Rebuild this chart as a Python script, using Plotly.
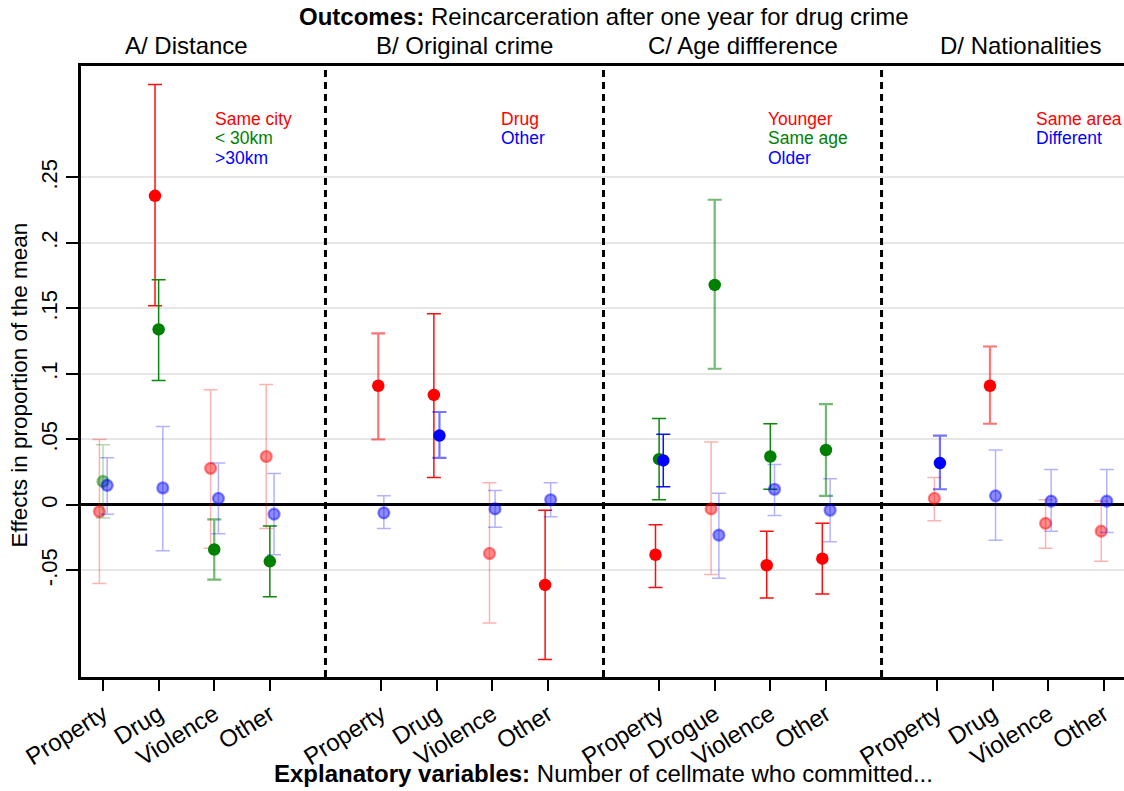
import plotly.graph_objects as go

# ---------------- data ----------------
panel_titles = ["A/ Distance", "B/ Original crime", "C/ Age diffference", "D/ Nationalities"]
cats_A = ["Property", "Drug", "Violence", "Other"]
cats_B = ["Property", "Drug", "Violence", "Other"]
cats_C = ["Property", "Drogue", "Violence", "Other"]
cats_D = ["Property", "Drug", "Violence", "Other"]

# significance: 2 = strongly significant, 1 = significant, 0 = not significant
# Panel A: distance
A_samecity_est = [-0.005, 0.236, 0.028, 0.037]
A_samecity_lo = [-0.060, 0.152, -0.033, -0.018]
A_samecity_hi = [0.050, 0.321, 0.088, 0.092]
A_samecity_sig = [0, 2, 0, 0]
A_lt30_est = [0.018, 0.134, -0.034, -0.043]
A_lt30_lo = [-0.010, 0.095, -0.057, -0.070]
A_lt30_hi = [0.046, 0.172, -0.011, -0.016]
A_lt30_sig = [0, 2, 1, 2]
A_gt30_est = [0.015, 0.013, 0.005, -0.007]
A_gt30_lo = [-0.007, -0.035, -0.022, -0.038]
A_gt30_hi = [0.036, 0.060, 0.032, 0.024]
A_gt30_sig = [0, 0, 0, 0]

# Panel B: original crime
B_drug_est = [0.091, 0.084, -0.037, -0.061]
B_drug_lo = [0.050, 0.021, -0.090, -0.118]
B_drug_hi = [0.131, 0.146, 0.017, -0.004]
B_drug_sig = [1, 2, 0, 2]
B_other_est = [-0.006, 0.053, -0.003, 0.004]
B_other_lo = [-0.018, 0.036, -0.017, -0.009]
B_other_hi = [0.007, 0.071, 0.011, 0.017]
B_other_sig = [0, 1, 0, 0]

# Panel C: age difference
C_younger_est = [-0.038, -0.003, -0.046, -0.041]
C_younger_lo = [-0.063, -0.053, -0.071, -0.068]
C_younger_hi = [-0.015, 0.048, -0.020, -0.014]
C_younger_sig = [2, 0, 2, 2]
C_sameage_est = [0.035, 0.168, 0.037, 0.042]
C_sameage_lo = [0.004, 0.104, 0.012, 0.007]
C_sameage_hi = [0.066, 0.233, 0.062, 0.077]
C_sameage_sig = [2, 1, 2, 1]
C_older_est = [0.034, -0.023, 0.012, -0.004]
C_older_lo = [0.014, -0.056, -0.008, -0.028]
C_older_hi = [0.054, 0.009, 0.031, 0.020]
C_older_sig = [2, 0, 0, 0]

# Panel D: nationalities
D_samearea_est = [0.005, 0.091, -0.014, -0.020]
D_samearea_lo = [-0.012, 0.062, -0.033, -0.043]
D_samearea_hi = [0.021, 0.121, 0.004, 0.003]
D_samearea_sig = [0, 1, 0, 0]
D_diff_est = [0.032, 0.007, 0.003, 0.003]
D_diff_lo = [0.012, -0.027, -0.020, -0.021]
D_diff_hi = [0.053, 0.042, 0.027, 0.027]
D_diff_sig = [1, 0, 0, 0]

ytick_vals = [-0.05, 0, 0.05, 0.1, 0.15, 0.2, 0.25]
ytick_text = ["-.05", "0", ".05", ".1", ".15", ".2", ".25"]

# ---------------- styling ----------------
RGB = {"red": (255, 0, 0), "green": (0, 128, 0), "blue": (0, 0, 255)}
FONT = "Liberation Sans, Arial, Helvetica, sans-serif"

def rgba(c, a):
    r, g, b = RGB[c]
    return f"rgba({r},{g},{b},{a})"

panels = [
    (cats_A, [("Same city", "red", A_samecity_est, A_samecity_lo, A_samecity_hi, A_samecity_sig, -0.065),
              ("< 30km", "green", A_lt30_est, A_lt30_lo, A_lt30_hi, A_lt30_sig, 0.0),
              (">30km", "blue", A_gt30_est, A_gt30_lo, A_gt30_hi, A_gt30_sig, 0.075)]),
    (cats_B, [("Drug", "red", B_drug_est, B_drug_lo, B_drug_hi, B_drug_sig, -0.05),
              ("Other", "blue", B_other_est, B_other_lo, B_other_hi, B_other_sig, 0.05)]),
    (cats_C, [("Younger", "red", C_younger_est, C_younger_lo, C_younger_hi, C_younger_sig, -0.065),
              ("Same age", "green", C_sameage_est, C_sameage_lo, C_sameage_hi, C_sameage_sig, 0.0),
              ("Older", "blue", C_older_est, C_older_lo, C_older_hi, C_older_sig, 0.075)]),
    (cats_D, [("Same area", "red", D_samearea_est, D_samearea_lo, D_samearea_hi, D_samearea_sig, -0.05),
              ("Different", "blue", D_diff_est, D_diff_lo, D_diff_hi, D_diff_sig, 0.05)]),
]

fig = go.Figure()
tickvals, ticktext = [], []
annotations = []
legend_x = [2.98, 8.12, 12.93, 17.74]

for p, (cats, series) in enumerate(panels):
    start = 1 + 5 * p
    for i, c in enumerate(cats):
        tickvals.append(start + i)
        ticktext.append(c)
    for name, col, est, lo, hi, sig, off in series:
        for i in range(len(cats)):
            s = sig[i]
            if s == 2:
                mfill, mline, mlw = rgba(col, 1), rgba(col, 1), 0
                ecol, ew = rgba(col, 0.95), 1.5
            elif s == 1:
                mfill, mline, mlw = rgba(col, 1), rgba(col, 1), 0
                ecol, ew = rgba(col, 0.55), 2.2
            else:
                mfill, mline, mlw = rgba(col, 0.45), rgba(col, 0.45), 2.2
                ecol, ew = rgba(col, 0.3), 1.5
            fig.add_trace(go.Scatter(
                x=[start + i + off], y=[est[i]], mode="markers",
                marker=dict(size=12.5 if s else 11, color=mfill, line=dict(color=mline, width=mlw)),
                error_y=dict(type="data", symmetric=False, array=[hi[i] - est[i]],
                             arrayminus=[est[i] - lo[i]], color=ecol, thickness=ew, width=7),
                showlegend=False, name=name, hoverinfo="skip"))
    # text legend
    for k, (name, col, *_rest) in enumerate(series):
        annotations.append(dict(x=legend_x[p], y=0.2947 - 0.0148 * k, xref="x", yref="y",
                                text=name, showarrow=False, xanchor="left", yanchor="middle",
                                font=dict(family=FONT, size=17.5, color=rgba(col, 1))))
    annotations.append(dict(x=start + 1.5, y=1.0335, xref="x", yref="paper", text=panel_titles[p],
                            showarrow=False, xanchor="center", yanchor="middle",
                            font=dict(family=FONT, size=24, color="black")))

annotations.append(dict(x=10, y=1.081, xref="x", yref="paper",
                        text="<b>Outcomes:</b> Reincarceration after one year for drug crime",
                        showarrow=False, xanchor="center", yanchor="middle",
                        font=dict(family=FONT, size=24, color="black")))
annotations.append(dict(x=10, y=-0.158, xref="x", yref="paper",
                        text="<b>Explanatory variables:</b> Number of cellmate who committed...",
                        showarrow=False, xanchor="center", yanchor="middle",
                        font=dict(family=FONT, size=24, color="black")))
annotations.append(dict(x=-0.059, y=0.478, xref="paper", yref="paper",
                        text="Effects in proportion of the mean", textangle=-90,
                        showarrow=False, xanchor="center", yanchor="middle",
                        font=dict(family=FONT, size=22.5, color="black")))

shapes = []
for xs in [5, 10, 15]:
    shapes.append(dict(type="line", xref="x", yref="paper", x0=xs, x1=xs, y0=0, y1=1,
                       line=dict(color="black", width=3, dash="7px,5px")))

fig.update_layout(
    width=1124, height=791,
    margin=dict(l=81, r=0, t=66, b=114),
    plot_bgcolor="white", paper_bgcolor="white",
    font=dict(family=FONT, color="black"),
    annotations=annotations, shapes=shapes,
    xaxis=dict(range=[0.604, 19.36], tickvals=tickvals, ticktext=ticktext, tickangle=-32,
               ticks="outside", ticklen=11, tickwidth=2, tickcolor="black",
               showgrid=False, zeroline=False, showline=True, linecolor="black", linewidth=3,
               mirror=True, tickfont=dict(family=FONT, size=24, color="black")),
    yaxis=dict(range=[-0.1313, 0.3351], tickvals=ytick_vals, ticktext=ytick_text, tickangle=-90,
               ticks="outside", ticklen=12, tickwidth=2, tickcolor="black",
               showgrid=True, gridcolor="#e6e6e6", gridwidth=2,
               zeroline=True, zerolinecolor="black", zerolinewidth=3,
               showline=True, linecolor="black", linewidth=3,
               tickfont=dict(family=FONT, size=22, color="black")),
)

fig.write_html("out.html")
